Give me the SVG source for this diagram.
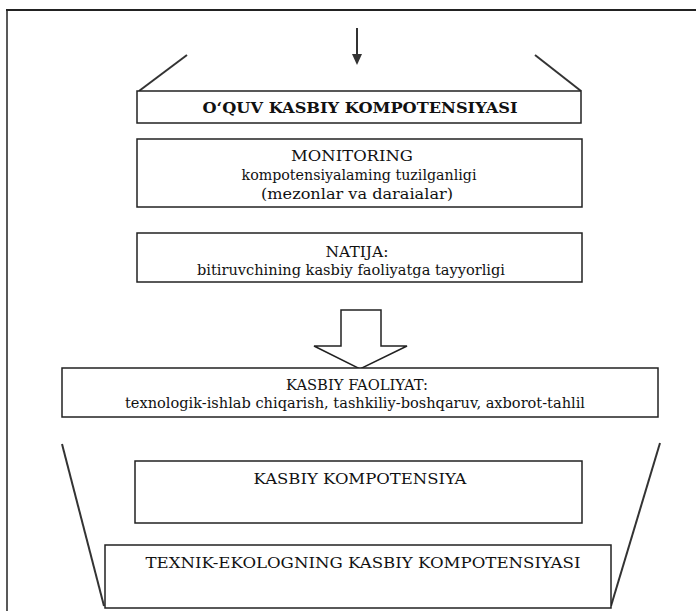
<svg xmlns="http://www.w3.org/2000/svg" width="696" height="611" viewBox="0 0 696 611">
<defs>
<style>
.box{fill:#fff;stroke:#222;stroke-width:1.5}
.ln{stroke:#333;stroke-width:2;fill:none}
.t{font-family:"DejaVu Serif","Liberation Serif",serif;font-size:15px;fill:#111;text-anchor:middle}
.s{font-size:14px}
.b{font-weight:bold}
</style>
</defs>
<rect width="696" height="611" fill="#fff"/>
<g id="frame">
<line x1="6" y1="10" x2="696" y2="10" stroke="#222" stroke-width="2"/>
<line x1="7" y1="10" x2="7" y2="611" stroke="#222" stroke-width="1.5"/>
</g>
<g id="connectors">
<line x1="357" y1="28" x2="357" y2="56" stroke="#333" stroke-width="2"/>
<path d="M352,54 L362,54 L357,65 Z" fill="#333"/>
<line class="ln" x1="187" y1="55" x2="139" y2="91"/>
<line class="ln" x1="535" y1="55" x2="581" y2="91"/>
<polygon points="341,310 381,310 381,346 407,346 360,369 314,346 341,346" fill="#fff" stroke="#222" stroke-width="1.5"/>
<line class="ln" x1="62" y1="444" x2="104" y2="606"/>
<line class="ln" x1="660" y1="443" x2="611" y2="606"/>
</g>
<g id="n1">
<rect class="box" x="137" y="91" width="444" height="32"/>
<text class="t b" x="360" y="113" textLength="315" lengthAdjust="spacingAndGlyphs">O‘QUV KASBIY KOMPOTENSIYASI</text>
</g>
<g id="n2">
<rect class="box" x="137" y="139" width="445" height="68"/>
<text class="t" x="352" y="161" textLength="122" lengthAdjust="spacingAndGlyphs">MONITORING</text>
<text class="t" x="359" y="180" textLength="235" lengthAdjust="spacingAndGlyphs">kompotensiyalaming tuzilganligi</text>
<text class="t s" x="357" y="199" textLength="192" lengthAdjust="spacingAndGlyphs">(mezonlar va daraialar)</text>
</g>
<g id="n3">
<rect class="box" x="137" y="233" width="445" height="49"/>
<text class="t" x="357" y="257" textLength="63" lengthAdjust="spacingAndGlyphs">NATIJA:</text>
<text class="t" x="351" y="275" textLength="308" lengthAdjust="spacingAndGlyphs">bitiruvchining kasbiy faoliyatga tayyorligi</text>
</g>
<g id="n4">
<rect class="box" x="62" y="368" width="596" height="49"/>
<text class="t" x="357" y="390" textLength="142" lengthAdjust="spacingAndGlyphs">KASBIY FAOLIYAT:</text>
<text class="t" x="355" y="408" textLength="460" lengthAdjust="spacingAndGlyphs">texnologik-ishlab chiqarish, tashkiliy-boshqaruv, axborot-tahlil</text>
</g>
<g id="n5">
<rect class="box" x="135" y="461" width="447" height="62"/>
<text class="t" x="360" y="484" textLength="213" lengthAdjust="spacingAndGlyphs">KASBIY KOMPOTENSIYA</text>
</g>
<g id="n6">
<rect class="box" x="105" y="545" width="506" height="63"/>
<text class="t" x="363" y="568" textLength="435" lengthAdjust="spacingAndGlyphs">TEXNIK-EKOLOGNING KASBIY KOMPOTENSIYASI</text>
</g>
</svg>
